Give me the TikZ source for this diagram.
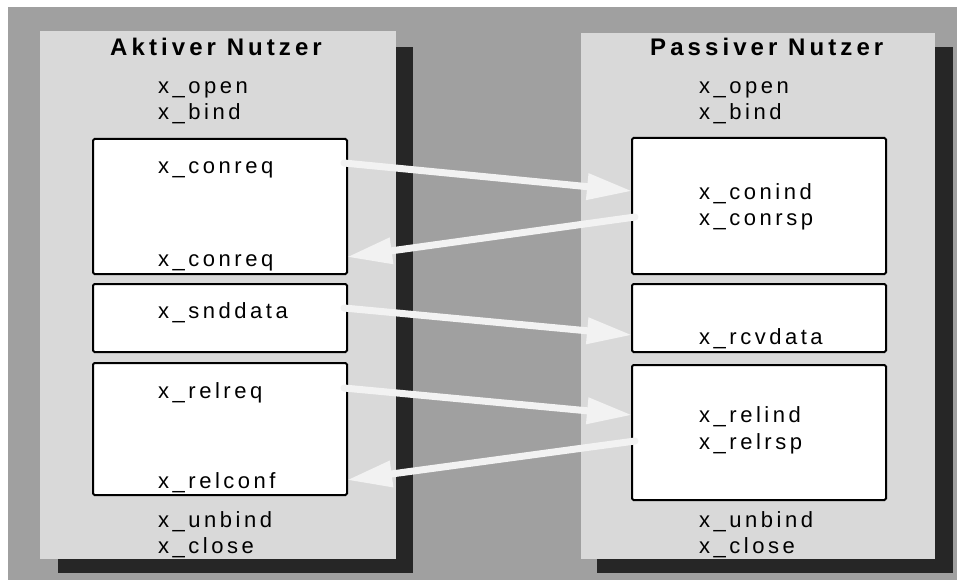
\documentclass[tikz,border=0pt]{standalone}
\usepackage{fontspec}
\usetikzlibrary{arrows.meta}
\newfontfamily\titlefont[LetterSpace=17]{Liberation Sans}
\newfontfamily\callfont[LetterSpace=16]{Liberation Sans}
\definecolor{bggrey}{HTML}{A0A0A0}
\definecolor{panelgrey}{HTML}{D9D9D9}
\definecolor{shadowdark}{HTML}{262626}
\definecolor{arrowwhite}{HTML}{F2F2F2}
\begin{document}
\begin{tikzpicture}[x=1pt,y=-1pt,
  callbox/.style={fill=white, draw=black, line width=2pt, rounded corners=1.5pt,
    minimum width=254pt, anchor=north west, inner sep=0pt},
  title/.style={anchor=base west, inner sep=0pt,
    font=\titlefont\bfseries\fontsize{24}{28}\selectfont},
  call/.style={anchor=base west, inner sep=0pt,
    font=\callfont\fontsize{22}{26}\selectfont},
  msg/.style={draw=arrowwhite, line width=7pt, line cap=round,
    -{Triangle[length=45pt,width=25pt]}}]
\useasboundingbox (0,0) rectangle (957,580);
% backdrop
\fill[bggrey] (8,7) rectangle (957,580);
% the two user panels with their drop shadows
\fill[shadowdark] (58,47) rectangle (413,573);
\fill[panelgrey] (40,31) rectangle (396,559);
\fill[shadowdark] (597,47) rectangle (953,573);
\fill[panelgrey] (581,33) rectangle (935,559);

% active user
\node[title] (atitle) at (110,56) {Aktiver Nutzer};
\node[call] (aopen) at (158,94) {x\_open};
\node[call] (abind) at (158,120) {x\_bind};
\node[callbox, minimum height=135pt] (L1) at (92,138) {};
\node[callbox, minimum height=68pt] (L2) at (92,283) {};
\node[callbox, minimum height=132pt] (L3) at (92,362) {};
\node[call] (aconreq) at (158,173) {x\_conreq};
\node[call] (aconcnf) at (158,266) {x\_conreq};
\node[call] (asnd) at (158,318) {x\_snddata};
\node[call] (arelreq) at (158,398) {x\_relreq};
\node[call] (arelconf) at (158,488) {x\_relconf};
\node[call] (aunbind) at (158,527) {x\_unbind};
\node[call] (aclose) at (158,553) {x\_close};

% passive user
\node[title] (ptitle) at (650,56) {Passiver Nutzer};
\node[call] (popen) at (699,94) {x\_open};
\node[call] (pbind) at (699,120) {x\_bind};
\node[callbox, minimum height=136pt] (R1) at (631,137) {};
\node[callbox, minimum height=68pt] (R2) at (631,283) {};
\node[callbox, minimum height=135pt] (R3) at (631,364) {};
\node[call] (pconind) at (699,199) {x\_conind};
\node[call] (pconrsp) at (699,225) {x\_conrsp};
\node[call] (prcv) at (699,344) {x\_rcvdata};
\node[call] (prelind) at (699,422) {x\_relind};
\node[call] (prelrsp) at (699,449) {x\_relrsp};
\node[call] (punbind) at (699,527) {x\_unbind};
\node[call] (pclose) at (699,553) {x\_close};

% messages exchanged between the users
\draw[msg] ([xshift=-4pt,yshift=-25pt]L1.north east) -- ([xshift=1pt,yshift=-54pt]R1.north west);
\draw[msg] ([xshift=4pt,yshift=-80pt]R1.north west) -- ([xshift=-1pt,yshift=-119pt]L1.north east);
\draw[msg] ([xshift=-4pt,yshift=-25pt]L2.north east) -- ([xshift=1pt,yshift=-52pt]R2.north west);
\draw[msg] ([xshift=-4pt,yshift=-26pt]L3.north east) -- ([xshift=1pt,yshift=-51pt]R3.north west);
\draw[msg] ([xshift=4pt,yshift=-77pt]R3.north west) -- ([xshift=-1pt,yshift=-118pt]L3.north east);
\end{tikzpicture}
\end{document}
